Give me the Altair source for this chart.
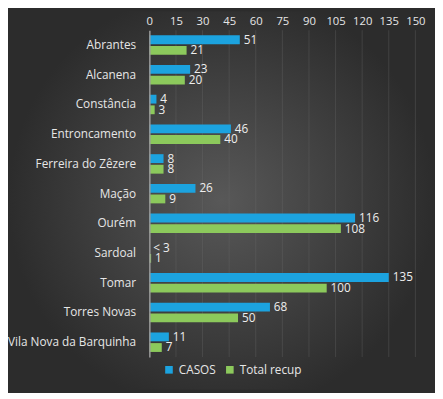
import altair as alt
import pandas as pd

concelhos = ["Abrantes", "Alcanena", "Constância", "Entroncamento", "Ferreira do Zêzere",
             "Mação", "Ourém", "Sardoal", "Tomar", "Torres Novas", "Vila Nova da Barquinha"]
casos = [51, 23, 4, 46, 8, 26, 116, 0, 135, 68, 11]
casos_labels = ["51", "23", "4", "46", "8", "26", "116", "< 3", "135", "68", "11"]
recup = [21, 20, 3, 40, 8, 9, 108, 1, 100, 50, 7]
recup_labels = ["21", "20", "3", "40", "8", "9", "108", "1", "100", "50", "7"]
series = ["CASOS", "Total recup"]
x_ticks = [0, 15, 30, 45, 60, 75, 90, 105, 120, 135, 150]

rows = []
for i, c in enumerate(concelhos):
    rows.append({"concelho": c, "serie": series[0], "valor": casos[i], "label": casos_labels[i]})
    rows.append({"concelho": c, "serie": series[1], "valor": recup[i], "label": recup_labels[i]})
df = pd.DataFrame(rows)

W, H = 271, 333
FONT = "Open Sans"

bg = alt.Chart(pd.DataFrame({"a": [0]})).mark_rect(
    fill=alt.RadialGradient(gradient="radial", stops=[
        alt.GradientStop(offset=0, color="#585858"),
        alt.GradientStop(offset=1, color="#2c2c2c")]),
).encode(x=alt.value(-144), x2=alt.value(W + 20), y=alt.value(-19), y2=alt.value(H + 33))

x_scale = alt.Scale(domain=[0, 150], nice=False)
x_axis = alt.Axis(orient="top", values=x_ticks, labelColor="#e6e6e6",
                  labelFontSize=11.5, labelFont=FONT, ticks=False, domain=False,
                  labelPadding=4, grid=False, zindex=1, labelOverlap=False,
                  labelBound=False, labelFlush=False)

grid = alt.Chart(pd.DataFrame({"valor": x_ticks[1:]})).mark_rule(
    color="#6a6a6a", opacity=0.35, strokeWidth=1).encode(
    x=alt.X("valor:Q", scale=x_scale, axis=x_axis, title=None),
    y=alt.value(0), y2=alt.value(H))

y_enc = alt.Y("concelho:N", sort=concelhos, title=None,
              scale=alt.Scale(paddingInner=0.32, paddingOuter=0.16),
              axis=alt.Axis(labelColor="#e6e6e6", labelFontSize=12, labelFont=FONT,
                            ticks=False, labelPadding=14, domainColor="#9a9a9a",
                            domainWidth=1.5, grid=False, zindex=1))

bars = alt.Chart(df).mark_bar(size=9).encode(
    y=y_enc,
    yOffset=alt.YOffset("serie:N", sort=series, scale=alt.Scale(paddingInner=0.1)),
    x=alt.X("valor:Q", scale=x_scale, title=None, axis=x_axis),
    color=alt.Color("serie:N", sort=series,
                    scale=alt.Scale(domain=series, range=["#1ca3df", "#8cc95c"]),
                    legend=alt.Legend(title=None, orient="none", direction="horizontal",
                                      legendX=14, legendY=340, symbolType="square",
                                      symbolSize=60, symbolStrokeWidth=0,
                                      labelColor="#e6e6e6", labelFontSize=12,
                                      labelFont=FONT, columnPadding=8, labelOffset=4)),
)

labels = alt.Chart(df).mark_text(align="left", baseline="middle", dx=4, fontSize=12,
                                 font=FONT, color="#eeeeee").encode(
    y=alt.Y("concelho:N", sort=concelhos),
    yOffset=alt.YOffset("serie:N", sort=series),
    x=alt.X("valor:Q", scale=x_scale, axis=x_axis),
    text="label:N",
)

chart = alt.layer(bg, grid, bars, labels).properties(
    width=W, height=H,
    autosize=alt.AutoSizeParams(type="none"),
    padding={"left": 144, "top": 19, "right": 20, "bottom": 33},
    background="#2c2c2c",
).configure_view(stroke=None)

chart.save("out.html", embed_options={"renderer": "svg", "actions": False})
